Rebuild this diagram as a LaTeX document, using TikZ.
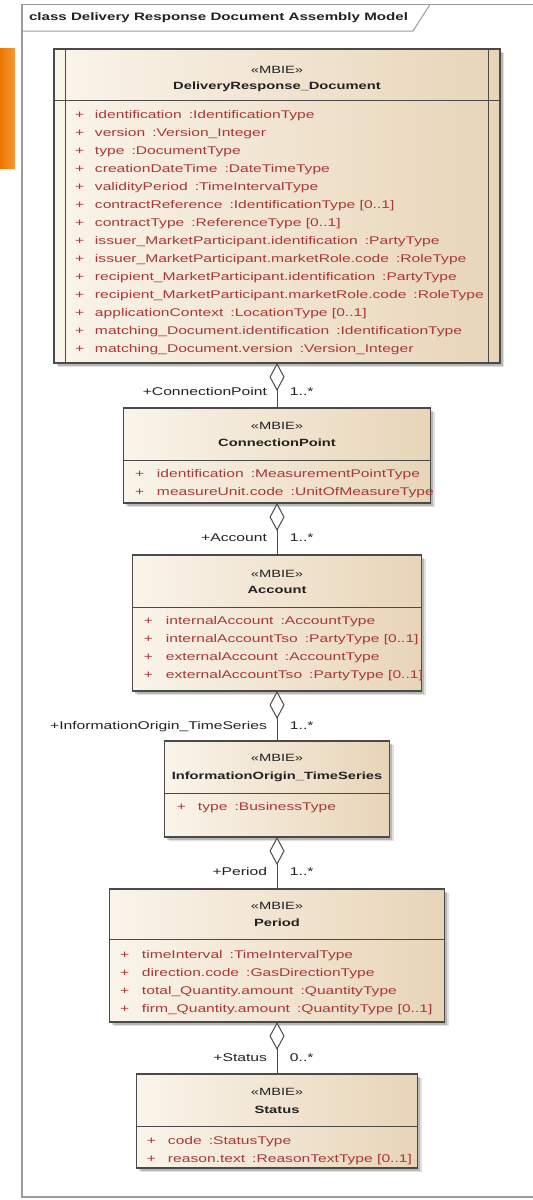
\documentclass[tikz,border=0pt]{standalone}
\usepackage{fontspec}
\setmainfont{Liberation Sans}
\usetikzlibrary{arrows.meta,calc}
\definecolor{attrc}{HTML}{A83838}
\definecolor{boxL}{HTML}{FAF4EA}
\definecolor{boxR}{HTML}{E8D5B8}
\definecolor{edgec}{HTML}{4A4A4A}
\definecolor{framec}{HTML}{9C9C9C}
\definecolor{orangeA}{HTML}{EE7600}
\definecolor{orangeB}{HTML}{F59A38}
\definecolor{inkc}{HTML}{222222}
\newcommand\ty{\hspace{0.45em}:}
\newcommand\arow[5]{%
  \node[attr] (#1p) at (#3,#2) {+};
  \node[attr] (#1) at (#4,#2) {#5};}
\newcommand\shadowof[1]{%
  \fill[black, opacity=0.12] ($(#1.south west)+(4,4)$) rectangle ($(#1.north east)+(4,4)$);
  \fill[black, opacity=0.18] ($(#1.south west)+(2.5,2.5)$) rectangle ($(#1.north east)+(2.5,2.5)$);}
\begin{document}
\begin{tikzpicture}[x=0.7142857pt, y=-1pt, xscale=1.4,
  txt/.style={transform shape, inner sep=0pt, outer sep=0pt, text height=7.7pt, text depth=2.2pt},
  ster/.style={txt, font=\fontsize{10.5}{12}\selectfont, text=inkc},
  cname/.style={txt, font=\fontsize{10.5}{12}\selectfont\bfseries, text=inkc},
  attr/.style={txt, anchor=west, font=\fontsize{11.15}{12}\selectfont, text=attrc},
  rolelab/.style={txt, font=\fontsize{11.2}{12}\selectfont, text=inkc},
  umlbox/.style={draw=edgec, line width=1.1pt, left color=boxL, right color=boxR, inner sep=0pt, outer sep=0pt},
  sepline/.style={draw=edgec, line width=1pt},
  assoc/.style={draw=edgec, line width=1pt, {Diamond[fill=white, length=28pt, width=15pt]}-},
]
\useasboundingbox (0,0) rectangle (533,1200);
\fill[white] (0,0) rectangle (533,1200);
% orange slide mark
\shade[left color=orangeA, right color=orangeB] (0,48) rectangle (15,168);
% frame
\draw[framec, line width=1.3pt] (533,4.5) -- (22,4.5) -- (22,1197) -- (533,1197);
\draw[framec, line width=1pt] (22,31) -- (413,31) -- (430,4.5);
\node[txt, anchor=west, font=\fontsize{10.8}{12}\selectfont\bfseries, text=inkc] (title) at (29,18) {class Delivery Response Document Assembly Model};

% ---------- DeliveryResponse_Document
\path (277,206) node[minimum width=446pt, minimum height=314pt, inner sep=0pt, outer sep=0pt] (doc) {};
\shadowof{doc}
\node[umlbox, minimum width=446pt, minimum height=314pt] at (doc.center) {};
\draw[sepline] (65.5,49) -- (65.5,363) (488.5,49) -- (488.5,363);
\draw[sepline] (doc.west |- 0,100) -- (doc.east |- 0,100);
\node[ster] (docs) at (277,71) {«MBIE»};
\node[cname] (docn) at (277,87) {DeliveryResponse\_Document};
\arow{d1}{116}{75}{95}{identification\ty IdentificationType}
\arow{d2}{134}{75}{95}{version\ty Version\_Integer}
\arow{d3}{152}{75}{95}{type\ty DocumentType}
\arow{d4}{170}{75}{95}{creationDateTime\ty DateTimeType}
\arow{d5}{188}{75}{95}{validityPeriod\ty TimeIntervalType}
\arow{d6}{206}{75}{95}{contractReference\ty IdentificationType [0..1]}
\arow{d7}{224}{75}{95}{contractType\ty ReferenceType [0..1]}
\arow{d8}{242}{75}{95}{issuer\_MarketParticipant.identification\ty PartyType}
\arow{d9}{260}{75}{95}{issuer\_MarketParticipant.marketRole.code\ty RoleType}
\arow{d10}{278}{75}{95}{recipient\_MarketParticipant.identification\ty PartyType}
\arow{d11}{296}{75}{95}{recipient\_MarketParticipant.marketRole.code\ty RoleType}
\arow{d12}{314}{75}{95}{applicationContext\ty LocationType [0..1]}
\arow{d13}{332}{75}{95}{matching\_Document.identification\ty IdentificationType}
\arow{d14}{350}{75}{95}{matching\_Document.version\ty Version\_Integer}

% ---------- ConnectionPoint
\path (277,455.5) node[minimum width=307pt, minimum height=95pt, inner sep=0pt, outer sep=0pt] (cp) {};
\shadowof{cp}
\node[umlbox, minimum width=307pt, minimum height=95pt] at (cp.center) {};
\draw[sepline] (cp.west |- 0,460) -- (cp.east |- 0,460);
\node[ster] (cps) at (277,427) {«MBIE»};
\node[cname] (cpn) at (277,444) {ConnectionPoint};
\arow{c1}{475}{135}{157}{identification\ty MeasurementPointType}
\arow{c2}{493}{135}{157}{measureUnit.code\ty UnitOfMeasureType}

% ---------- Account
\path (277,623) node[minimum width=289pt, minimum height=136pt, inner sep=0pt, outer sep=0pt] (acc) {};
\shadowof{acc}
\node[umlbox, minimum width=289pt, minimum height=136pt] at (acc.center) {};
\draw[sepline] (acc.west |- 0,607) -- (acc.east |- 0,607);
\node[ster] (accs) at (277,575) {«MBIE»};
\node[cname] (accn) at (277,591) {Account};
\arow{a1}{622}{144}{166}{internalAccount\ty AccountType}
\arow{a2}{640}{144}{166}{internalAccountTso\ty PartyType [0..1]}
\arow{a3}{658}{144}{166}{externalAccount\ty AccountType}
\arow{a4}{676}{144}{166}{externalAccountTso\ty PartyType [0..1]}

% ---------- InformationOrigin_TimeSeries
\path (277,789) node[minimum width=225pt, minimum height=96pt, inner sep=0pt, outer sep=0pt] (info) {};
\shadowof{info}
\node[umlbox, minimum width=225pt, minimum height=96pt] at (info.center) {};
\draw[sepline] (info.west |- 0,793) -- (info.east |- 0,793);
\node[ster] (infos) at (277,759) {«MBIE»};
\node[cname] (infon) at (277,777) {InformationOrigin\_TimeSeries};
\arow{i1}{808}{177}{198}{type\ty BusinessType}

% ---------- Period
\path (277,955.5) node[minimum width=335pt, minimum height=133pt, inner sep=0pt, outer sep=0pt] (per) {};
\shadowof{per}
\node[umlbox, minimum width=335pt, minimum height=133pt] at (per.center) {};
\draw[sepline] (per.west |- 0,939) -- (per.east |- 0,939);
\node[ster] (pers) at (277,907) {«MBIE»};
\node[cname] (pern) at (277,924) {Period};
\arow{p1}{956}{120}{142}{timeInterval\ty TimeIntervalType}
\arow{p2}{974}{120}{142}{direction.code\ty GasDirectionType}
\arow{p3}{992}{120}{142}{total\_Quantity.amount\ty QuantityType}
\arow{p4}{1010}{120}{142}{firm\_Quantity.amount\ty QuantityType [0..1]}

% ---------- Status
\path (277,1121) node[minimum width=281pt, minimum height=94pt, inner sep=0pt, outer sep=0pt] (st) {};
\shadowof{st}
\node[umlbox, minimum width=281pt, minimum height=94pt] at (st.center) {};
\draw[sepline] (st.west |- 0,1126) -- (st.east |- 0,1126);
\node[ster] (sts) at (277,1093) {«MBIE»};
\node[cname] (stn) at (277,1111) {Status};
\arow{s1}{1142}{147}{168}{code\ty StatusType}
\arow{s2}{1160}{147}{168}{reason.text\ty ReasonTextType [0..1]}

% ---------- connectors
\draw[assoc] (doc.south) -- (cp.north);
\draw[assoc] (cp.south) -- (acc.north);
\draw[assoc] (acc.south) -- (info.north);
\draw[assoc] (info.south) -- (per.north);
\draw[assoc] (per.south) -- (st.north);

\node[rolelab, anchor=east] (r1) at (267,393) {+ConnectionPoint};
\node[rolelab, anchor=west] (m1) at (290,393) {1..*};
\node[rolelab, anchor=east] (r2) at (267,539) {+Account};
\node[rolelab, anchor=west] (m2) at (290,539) {1..*};
\node[rolelab, anchor=east] (r3) at (267,727) {+InformationOrigin\_TimeSeries};
\node[rolelab, anchor=west] (m3) at (290,727) {1..*};
\node[rolelab, anchor=east] (r4) at (267,873) {+Period};
\node[rolelab, anchor=west] (m4) at (290,873) {1..*};
\node[rolelab, anchor=east] (r5) at (267,1059) {+Status};
\node[rolelab, anchor=west] (m5) at (290,1059) {0..*};
\end{tikzpicture}
\end{document}
